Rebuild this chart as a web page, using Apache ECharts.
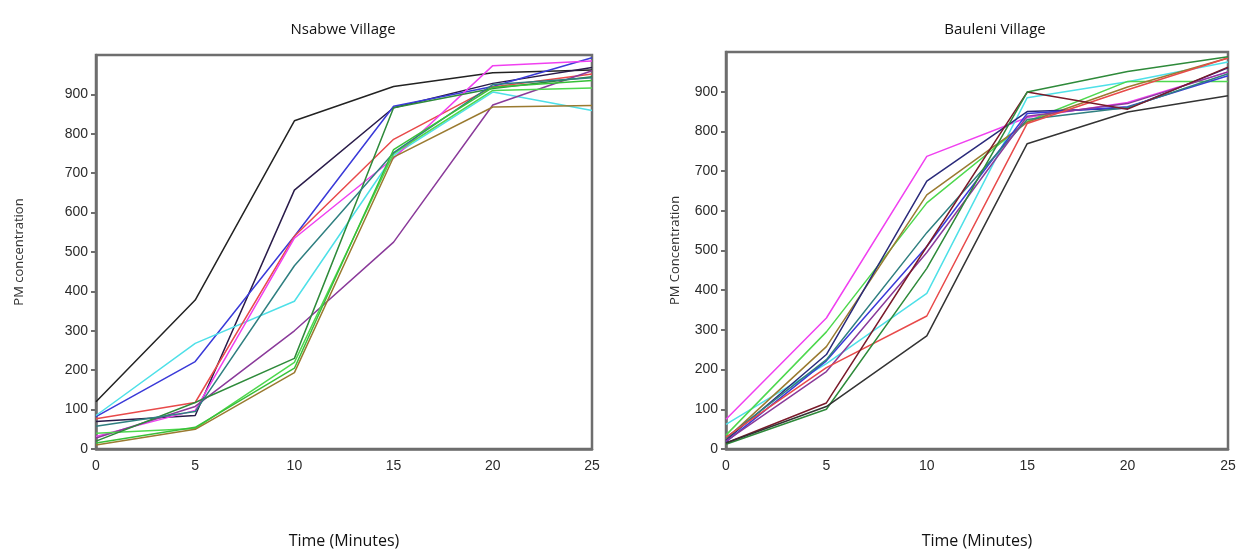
<!DOCTYPE html>
<html><head><meta charset="utf-8">
<script src="https://cdn.jsdelivr.net/npm/echarts@6/dist/echarts.min.js"></script>
<style>html,body{margin:0;padding:0;background:#fff}#c{width:1243px;height:554px}</style>
</head><body><div id="c"></div>
<script>
const times = [0, 5, 10, 15, 20, 25];
const yTicks = [0,100,200,300,400,500,600,700,800,900];

// Nsabwe Village
const nsabweColors = ['#222222','#2a1c4a','#3a3ad8','#4ee0e8','#e84a4a','#f040f0','#8a3a9a','#4ed84e','#2e8a3a','#2f7f80','#9a7a30','#38c038'];
const nsabwe1 = [120, 378, 833, 920, 955, 962];
const nsabwe2 = [70, 85, 657, 866, 928, 968];
const nsabwe3 = [82, 222, 540, 870, 920, 993];
const nsabwe4 = [85, 268, 375, 745, 906, 859];
const nsabwe5 = [77, 118, 540, 786, 919, 952];
const nsabwe6 = [32, 98, 535, 738, 973, 985];
const nsabwe7 = [28, 108, 300, 525, 873, 960];
const nsabwe8 = [40, 52, 220, 750, 910, 916];
const nsabwe9 = [20, 118, 230, 866, 915, 945];
const nsabwe10 = [58, 95, 465, 752, 925, 942];
const nsabwe11 = [10, 50, 194, 741, 868, 872];
const nsabwe12 = [15, 55, 205, 760, 918, 935];

// Bauleni Village
const baulColors = ['#f040f0','#4ee0e8','#4ed84e','#9a7a30','#2a2a7a','#3a3ad8','#2f7f80','#8a3a9a','#e84a4a','#7a1a2a','#2e8a3a','#333333'];
const baul1 = [75, 330, 737, 835, 873, 950];
const baul2 = [62, 215, 392, 885, 925, 975];
const baul3 = [35, 295, 620, 825, 926, 926];
const baul4 = [25, 258, 640, 823, 912, 985];
const baul5 = [22, 238, 675, 850, 858, 960];
const baul6 = [18, 222, 510, 845, 862, 940];
const baul7 = [28, 225, 545, 830, 860, 945];
const baul8 = [20, 195, 495, 838, 870, 950];
const baul9 = [30, 205, 335, 820, 905, 985];
const baul10 = [15, 116, 510, 899, 856, 962];
const baul11 = [12, 100, 455, 899, 951, 988];
const baul12 = [15, 107, 285, 769, 849, 890];

const nsabweSeries = [nsabwe1,nsabwe2,nsabwe3,nsabwe4,nsabwe5,nsabwe6,nsabwe7,nsabwe8,nsabwe9,nsabwe10,nsabwe11,nsabwe12];
const baulSeries = [baul1,baul2,baul3,baul4,baul5,baul6,baul7,baul8,baul9,baul10,baul11,baul12];

const axisCol = '#6e6e6e';
const txtCol = '#2a2a2a';
const font = 'Liberation Sans';

function xAxis(gi){
  return {
    type:'value', gridIndex:gi, min:0, max:25, interval:5,
    name:'Time (Minutes)', nameLocation:'middle', nameGap:84,
    nameTextStyle:{fontFamily:'Open Sans', fontSize:16, color:'#111'},
    axisLine:{show:true, lineStyle:{color:axisCol, width:2.5}},
    axisTick:{show:false},
    axisLabel:{fontFamily:font, fontSize:14, color:txtCol, margin:10},
    splitLine:{show:false}
  };
}
function yAxis(gi, name, gap){
  return {
    type:'value', gridIndex:gi, min:0, max:1000, interval:100,
    name:name, nameLocation:'middle', nameGap:gap,
    nameTextStyle:{fontFamily:'Open Sans', fontSize:13, color:'#333'},
    axisLine:{show:true, lineStyle:{color:axisCol, width:2.5}},
    axisTick:{show:true, length:5, lineStyle:{color:axisCol, width:2}},
    axisLabel:{fontFamily:font, fontSize:14, color:txtCol, margin:8, showMaxLabel:false,
      formatter:v => yTicks.includes(v) ? String(v) : ''},
    splitLine:{show:false}
  };
}

const series = [];
nsabweSeries.forEach((arr,i)=>{
  series.push({type:'line', xAxisIndex:0, yAxisIndex:0, symbol:'none', silent:true,
    data: times.map((t,j)=>[t,arr[j]]), lineStyle:{width:1.5, color:nsabweColors[i]}});
});
baulSeries.forEach((arr,i)=>{
  series.push({type:'line', xAxisIndex:1, yAxisIndex:1, symbol:'none', silent:true,
    data: times.map((t,j)=>[t,arr[j]]), lineStyle:{width:1.5, color:baulColors[i]}});
});

const chart = echarts.init(document.getElementById('c'), null, {renderer:'canvas'});
chart.setOption({
  animation:false,
  backgroundColor:'#fff',
  title:[
    {text:'Nsabwe Village', left:338, top:17, textAlign:'center',
     textStyle:{fontFamily:'Open Sans', fontSize:15, fontWeight:'normal', color:'#111'}},
    {text:'Bauleni Village', left:990, top:17, textAlign:'center',
     textStyle:{fontFamily:'Open Sans', fontSize:15, fontWeight:'normal', color:'#111'}}
  ],
  grid:[
    {left:96, top:55, right:651, bottom:98, show:true, borderColor:axisCol, borderWidth:2.5},
    {left:726, top:52, right:15, bottom:99, show:true, borderColor:axisCol, borderWidth:2.5}
  ],
  xAxis:[xAxis(0), xAxis(1)],
  yAxis:[yAxis(0,'PM concentration',70), yAxis(1,'PM Concentration',44)],
  series: series
});
</script></body></html>
